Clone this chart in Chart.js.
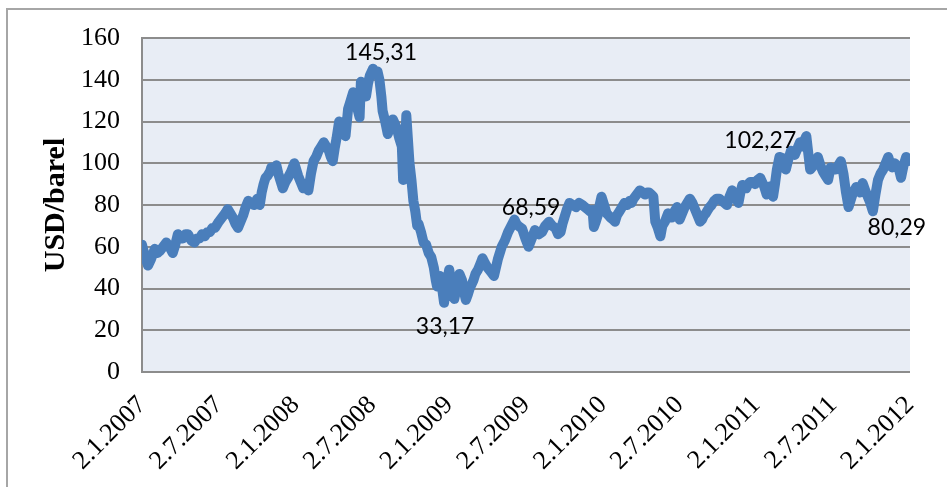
<!DOCTYPE html>
<html>
<head>
<meta charset="utf-8">
<script src="https://cdn.jsdelivr.net/npm/chart.js@4.4.1/dist/chart.umd.min.js"></script>
<style>
  html, body { margin: 0; padding: 0; background: #ffffff; }
  #wrap { position: relative; width: 947px; height: 487px; overflow: hidden; }
  canvas { display: block; }
</style>
</head>
<body>
<div id="wrap"><canvas id="c" width="947" height="487"></canvas></div>
<script>
// Months since 2.1.2007 (x position of each sample)
const months = [
  0.0,0.25,0.47,0.7,1.0,1.2,1.4,1.65,1.9,2.15,2.4,2.6,2.8,3.0,3.2,3.4,3.6,3.85,4.1,4.3,4.5,4.7,4.9,5.1,5.3,5.5,5.7,6.0,6.25,6.5,6.7,6.9,7.1,7.3,7.5,7.7,7.9,8.1,8.3,8.5,8.75,9.0,9.2,9.35,9.5,9.65,9.8,10.0,10.1,10.3,10.5,10.65,10.8,11.0,11.2,11.4,11.65,11.9,
  12.05,12.2,12.4,12.6,12.8,13.0,13.2,13.4,13.6,13.8,14.0,14.2,14.4,14.6,14.75,14.9,15.05,15.2,15.4,15.6,15.75,15.9,16.1,16.3,16.5,16.75,17.0,17.1,17.3,17.5,17.65,17.8,18.05,18.2,18.4,18.55,18.7,18.8,19.0,19.2,19.4,19.6,19.75,19.9,20.1,20.3,20.4,20.55,20.65,20.9,21.05,21.2,21.35,21.5,21.6,21.8,22.0,22.2,22.4,22.6,22.8,22.95,23.05,23.3,23.45,23.6,23.8,
  24.0,24.2,24.4,24.6,24.8,25.0,25.1,25.3,25.45,25.6,25.9,26.05,26.25,26.45,26.6,26.8,27.0,27.25,27.5,27.65,27.8,28.0,28.1,28.35,28.6,28.85,29.1,29.25,29.4,29.7,29.95,30.2,30.45,30.7,31.0,31.25,31.5,31.8,32.05,32.3,32.5,32.7,32.85,33.0,33.2,33.4,33.65,33.9,34.15,34.4,34.6,34.8,35.0,35.2,35.3,35.45,35.6,35.75,35.9,
  36.1,36.3,36.45,36.6,36.8,36.95,37.1,37.3,37.5,37.7,37.9,38.1,38.25,38.4,38.65,38.9,39.1,39.3,39.45,39.6,39.8,39.95,40.1,40.3,40.5,40.65,40.85,41.1,41.25,41.4,41.6,41.8,42.0,42.2,42.4,42.6,42.8,43.0,43.2,43.4,43.6,43.75,43.9,44.05,44.2,44.35,44.5,44.7,44.9,45.1,45.3,45.5,45.7,45.9,46.1,46.3,46.6,46.75,46.9,47.05,47.2,47.35,47.5,47.7,47.9,
  48.1,48.3,48.45,48.6,48.8,48.95,49.1,49.2,49.3,49.45,49.6,49.8,50.1,50.3,50.5,50.7,50.85,51.0,51.2,51.4,51.6,51.75,51.9,52.05,52.2,52.35,52.5,52.65,52.8,53.0,53.2,53.4,53.6,53.8,54.0,54.2,54.4,54.6,54.8,55.0,55.2,55.35,55.5,55.65,55.8,55.95,56.1,56.3,56.5,56.7,56.9,57.1,57.3,57.5,57.7,57.9,58.1,58.3,58.45,58.6,58.8,58.95,59.1,59.3,59.5,59.7,59.85,60.0
];
// Price, USD/barel
const prices = [
  61,55,51,54,59,57,58,60,62,60,57,61,66,64,64,66,66,63,62,64,64,66,65,67,67,69,69,72,74,76,78,76,74,71,69,72,75,79,82,81,80,83,80,86,90,93,94,96,98,97,99,95,92,88,91,93,96,100,
  97,94,91,88,90,87,95,101,103,106,108,110,108,106,103,101,107,112,120,117,115,113,126,130,134,128,122,139,135,132,138,142,145.31,143,144,140,132,125,120,114,118,121,119,117,112,108,92,106,123,100,92,82,77,70,71,67,62,61,57,55,50,44,41,46,40,33.17,42,
  49,42,35,41,47,44,40,34.5,37,40,44,47,49,52,54.5,52,50,48,46,50,54,58,60,63,67,70,73,71,70,68.59,64,60,64,68,66,67,70,72,70,69,66,67,71,74,78,81,80,79,81,80,79,78,77,77.6,69.5,72,75,80,84,
  80,76,75,74,73,72,75,77,79,81,80,82,81,83,85,87,86,85,86,86,85,84,72,69,65,70,72,76,75,74,77,79,73,76,79,81,83,81,78,75,72,73,75,76,77.6,79,80,82,83,83,82,81,80,84,87,84,81,86,89.6,88,88,90,91,91,90,
  92,93,91,89,85,88,89,86,84,90,97,103,102.27,97,102,106,105,104,107,110,108,111,113,105,97,98,100,101,103,99,96,94,92,98,97,97,99,101,95,86,79,82,85,87,88.6,88,86,90.5,87,84,81,77,85,92,95,97,100,103,100,98,100,99,98,93,99,103,101,102
];
// X-axis tick labels (every 6 months)
const tickLabels = ['2.1.2007','2.7.2007','2.1.2008','2.7.2008','2.1.2009','2.7.2009','2.1.2010','2.7.2010','2.1.2011','2.7.2011','2.1.2012'];
// Y-axis ticks
const yTicks = [0,20,40,60,80,100,120,140,160];
// Annotated values
const annLabels = ['145,31','33,17','68,59','102,27','80,29'];
const annMonths = [18.05, 23.6, 29.7, 50.1, 57.1];

const points = months.map((m, i) => ({ x: m, y: prices[i] }));

const annOffsets = [[8,-16],[1,24],[9,-21],[-23,-18],[24,16]];

const bgPlugin = {
  id: 'bg',
  beforeDraw(chart) {
    const { ctx, chartArea: a } = chart;
    ctx.save();
    ctx.fillStyle = '#ffffff';
    ctx.fillRect(0, 0, chart.width, chart.height);
    ctx.strokeStyle = '#a6a6a6';
    ctx.lineWidth = 2;
    ctx.strokeRect(7, 9, 1200, 1000);
    ctx.fillStyle = '#e8edf5';
    ctx.fillRect(a.left, a.top, a.right - a.left, a.bottom - a.top);
    ctx.restore();
  }
};

const annPlugin = {
  id: 'ann',
  afterDatasetsDraw(chart) {
    const { ctx, scales } = chart;
    ctx.save();
    ctx.font = '23px Lato';
    ctx.fillStyle = '#000000';
    ctx.textAlign = 'center';
    ctx.textBaseline = 'middle';
    annLabels.forEach((lab, i) => {
      const idx = months.indexOf(annMonths[i]);
      const px = scales.x.getPixelForValue(months[idx]);
      const py = scales.y.getPixelForValue(prices[idx]);
      ctx.fillText(lab, px + annOffsets[i][0], py + annOffsets[i][1]);
    });
    ctx.restore();
  }
};

new Chart(document.getElementById('c'), {
  type: 'line',
  data: {
    datasets: [{
      data: points,
      borderColor: '#4a7ebb',
      borderWidth: 10,
      borderJoinStyle: 'round',
      borderCapStyle: 'round',
      pointRadius: 0,
      tension: 0,
      fill: false
    }]
  },
  options: {
    responsive: false,
    devicePixelRatio: 1,
    animation: false,
    layout: { padding: { top: 38, right: 37, left: 0, bottom: 0 } },
    plugins: { legend: { display: false }, tooltip: { enabled: false } },
    scales: {
      x: {
        type: 'linear',
        min: 0, max: 60,
        afterBuildTicks(scale) { scale.ticks = tickLabels.map((t, i) => ({ value: i * 6 })); },
        afterFit(scale) {
          scale.height = 115;
          scale.paddingLeft = 0;
          scale.paddingRight = 0;
        },
        ticks: {
          autoSkip: false,
          minRotation: 45, maxRotation: 45,
          padding: 18,
          color: '#000000',
          font: { family: 'Liberation Serif', size: 26 },
          callback: (v) => tickLabels[Math.round(v / 6)]
        },
        grid: { display: false, drawTicks: false },
        border: { display: false }
      },
      y: {
        min: 0, max: 160,
        afterBuildTicks(scale) { scale.ticks = yTicks.map(v => ({ value: v })); },
        afterFit(scale) {
          scale.width = 142;
          scale.paddingTop = 0;
          scale.paddingBottom = 0;
        },
        ticks: {
          padding: 22,
          color: '#000000',
          font: { family: 'Liberation Serif', size: 26 }
        },
        grid: { color: '#8c8c8c', lineWidth: 2, drawTicks: false },
        border: { display: true, color: '#8c8c8c', width: 2 },
        title: {
          display: true,
          text: 'USD/barel',
          color: '#000000',
          font: { family: 'Liberation Serif', size: 30, weight: 'bold' },
          padding: { top: 38, bottom: 0 }
        }
      }
    }
  },
  plugins: [bgPlugin, annPlugin]
});
</script>
</body>
</html>
